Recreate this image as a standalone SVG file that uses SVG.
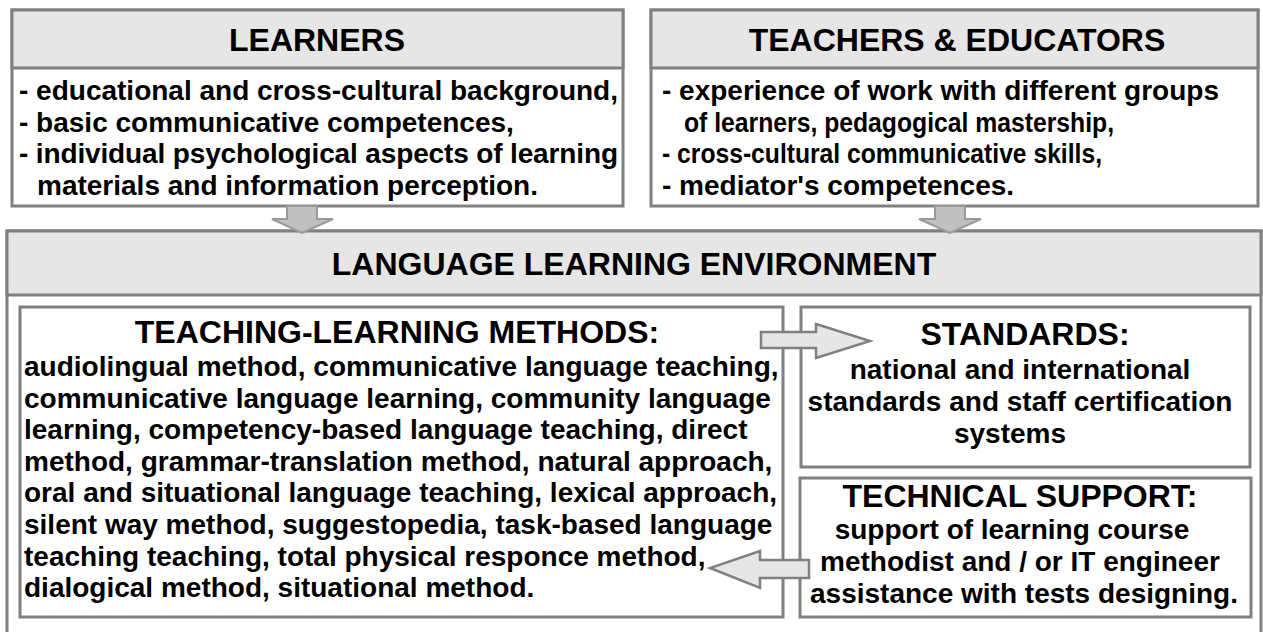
<svg xmlns="http://www.w3.org/2000/svg" width="1263" height="632" viewBox="0 0 1263 632">
<style>
.box{fill:#ffffff;stroke:#808080;stroke-width:3}
.hdr{fill:#e6e6e6;stroke:#808080;stroke-width:3}
.t{font-family:"Liberation Sans",Arial,sans-serif;font-weight:bold;fill:#000}
.h{font-size:32px;text-anchor:middle}
.b{font-size:28px}
.c{text-anchor:middle}
.darr{fill:#c0c0c0;stroke:#999999;stroke-width:2}
.sarr{fill:#e6e6e6;stroke:#808080;stroke-width:2.5}
</style>
<rect x="0" y="0" width="1263" height="632" fill="#ffffff"/>
<g id="environment">
<rect class="box" x="7" y="231" width="1254" height="410"/>
<rect class="hdr" x="7" y="231" width="1254" height="64"/>
<text class="t h" x="634" y="275">LANGUAGE LEARNING ENVIRONMENT</text>
</g>
<g id="learners">
<rect class="box" x="12" y="10" width="611" height="196"/>
<rect class="hdr" x="12" y="10" width="611" height="58"/>
<text class="t h" x="317" y="51">LEARNERS</text>
<text class="t b" x="19" y="100">- educational and cross-cultural background,</text>
<text class="t b" x="19" y="131.5">- basic communicative competences,</text>
<text class="t b" x="19" y="163" textLength="599" lengthAdjust="spacing">- individual psychological aspects of learning</text>
<text class="t b" x="37" y="194.5">materials and information perception.</text>
</g>
<g id="teachers">
<rect class="box" x="651" y="10" width="607" height="196"/>
<rect class="hdr" x="651" y="10" width="607" height="58"/>
<text class="t h" x="957" y="51">TEACHERS &amp; EDUCATORS</text>
<text class="t b" x="662" y="100">- experience of work with different groups</text>
<text class="t b" x="684" y="131.5" textLength="430" lengthAdjust="spacingAndGlyphs">of learners, pedagogical mastership,</text>
<text class="t b" x="662" y="163" textLength="440" lengthAdjust="spacingAndGlyphs">- cross-cultural communicative skills,</text>
<text class="t b" x="662" y="194.5">- mediator's competences.</text>
</g>
<g id="methods">
<rect class="box" x="20" y="307" width="763" height="310"/>
<text class="t h" x="397" y="343">TEACHING-LEARNING METHODS:</text>
<text class="t b" x="24" y="376">audiolingual method, communicative language teaching,</text>
<text class="t b" x="24" y="407.6">communicative language learning, community language</text>
<text class="t b" x="24" y="439.2">learning, competency-based language teaching, direct</text>
<text class="t b" x="24" y="470.8">method, grammar-translation method, natural approach,</text>
<text class="t b" x="24" y="502.4">oral and situational language teaching, lexical approach,</text>
<text class="t b" x="24" y="534">silent way method, suggestopedia, task-based language</text>
<text class="t b" x="24" y="565.6">teaching teaching, total physical responce method,</text>
<text class="t b" x="24" y="597.2">dialogical method, situational method.</text>
</g>
<g id="standards">
<rect class="box" x="801" y="307" width="449" height="160"/>
<text class="t h" x="1025" y="345">STANDARDS:</text>
<text class="t b c" x="1020" y="379">national and international</text>
<text class="t b c" x="1020" y="411">standards and staff certification</text>
<text class="t b c" x="1010" y="443">systems</text>
</g>
<g id="technical">
<rect class="box" x="800" y="478" width="451" height="139"/>
<text class="t h" x="1020" y="507">TECHNICAL SUPPORT:</text>
<text class="t b c" x="1012" y="539">support of learning course</text>
<text class="t b c" x="1020" y="571">methodist and / or IT engineer</text>
<text class="t b c" x="1024" y="603">assistance with tests designing.</text>
</g>
<g id="connectors">
<polygon class="darr" points="287,206 317,206 317,219 333,219 302,233 272,219 287,219"/>
<polygon class="darr" points="935,206 965,206 965,219 981,219 950,233 919,219 935,219"/>
<polygon class="sarr" points="761,332 816,332 816,324 870,341 816,358 816,348 761,348"/>
<polygon class="sarr" points="809,560 760,560 760,551 710,568 760,588 760,578 809,578"/>
</g>
</svg>
